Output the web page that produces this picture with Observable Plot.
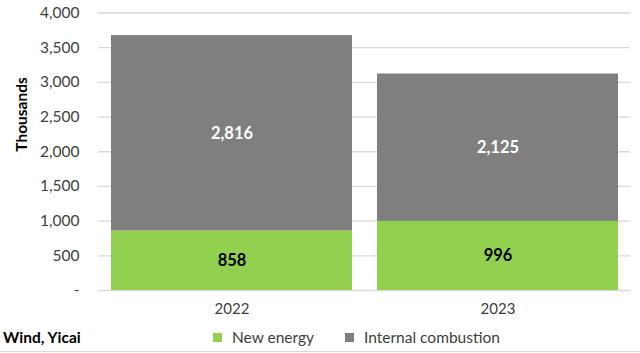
<!DOCTYPE html>
<html>
<head>
<meta charset="utf-8">
<script src="https://cdn.jsdelivr.net/npm/d3@7"></script>
<script src="https://cdn.jsdelivr.net/npm/@observablehq/plot@0.6"></script>
<style>
  html, body { margin: 0; padding: 0; background: #fff; }
  #wrap { position: relative; width: 640px; height: 353px; font-family: Lato, "Open Sans", sans-serif; overflow: hidden; }
  #chart { position: absolute; left: 0; top: 0; }
  .legend { position: absolute; top: 328px; font-size: 15.5px; color: #404040; display: flex; align-items: center; white-space: nowrap; }
  .sw { display: inline-block; width: 9px; height: 9px; margin-right: 10px; }
  #source { position: absolute; left: 3px; top: 328px; font-size: 15.5px; font-weight: bold; color: #000; }
  #rule { position: absolute; left: 0; top: 351px; width: 640px; height: 1px; background: #d9d9d9; }
</style>
</head>
<body>
<div id="wrap">
  <div id="chart"></div>
  <div id="source">Wind, Yicai</div>
  <div id="leg"></div>
  <div id="rule"></div>
</div>
<script>
const years = ["2022", "2023"];
const newEnergy = [858, 996];
const internalCombustion = [2816, 2125];
const seriesNames = ["New energy", "Internal combustion"];
const seriesColors = ["#92D050", "#7F7F7F"];
const yTicks = [0, 500, 1000, 1500, 2000, 2500, 3000, 3500, 4000];

const data = [];
years.forEach((y, i) => {
  data.push({year: y, series: seriesNames[0], value: newEnergy[i]});
  data.push({year: y, series: seriesNames[1], value: internalCombustion[i]});
});

const fmt = d3.format(",");
const chart = Plot.plot({
  width: 640,
  height: 325,
  marginLeft: 98,
  marginRight: 10,
  marginTop: 12.5,
  marginBottom: 35,
  style: {fontFamily: "Lato, 'Open Sans', sans-serif", fontSize: "15px", color: "#404040", background: "transparent"},
  x: {domain: years, paddingInner: 0.094, paddingOuter: 0.045, label: null, tickSize: 0, tickPadding: 13},
  y: {domain: [0, 4000], ticks: yTicks, label: null, tickSize: 0, tickPadding: 19,
      tickFormat: d => d === 0 ? "-" : fmt(d)},
  color: {domain: seriesNames, range: seriesColors},
  marks: [
    Plot.gridY(yTicks, {stroke: "#d9d9d9", strokeOpacity: 1, strokeWidth: 1.3}),
    Plot.barY(data, Plot.stackY({x: "year", y: "value", fill: "series", order: seriesNames})),
    Plot.text(data, Plot.stackY({x: "year", y: "value", order: seriesNames,
      text: d => fmt(d.value),
      fill: d => d.series === seriesNames[0] ? "#000" : "#fff",
      fontWeight: "bold", fontSize: 16.5})),
    Plot.axisY({ticks: yTicks, tickSize: 0, tickPadding: 19, tickFormat: d => d === 0 ? "-" : fmt(d), label: null, fontSize: 15.5}),
    Plot.text(["Thousands"], {frameAnchor: "left", dx: -76, rotate: -90, fontWeight: "bold", fontSize: 15.5, fill: "#000"})
  ]
});
document.getElementById("chart").appendChild(chart);

const leg = document.getElementById("leg");
const legPos = [213, 345];
seriesNames.forEach((name, i) => {
  const item = document.createElement("div");
  item.className = "legend";
  item.style.left = legPos[i] + "px";
  item.innerHTML = `<span class="sw" style="background:${seriesColors[i]}"></span><span>${name}</span>`;
  leg.appendChild(item);
});
</script>
</body>
</html>
